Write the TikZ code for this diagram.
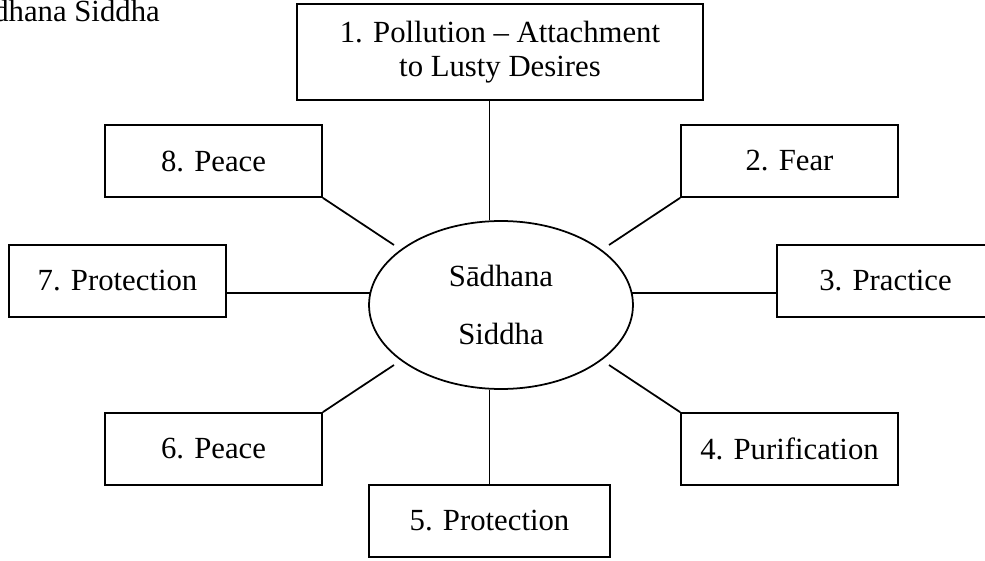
\documentclass[tikz,border=0pt]{standalone}
\usepackage{fontspec}
\setmainfont{Liberation Serif}
\usetikzlibrary{shapes.geometric}
\tikzstyle{box}=[draw, line width=1pt, inner sep=0pt, minimum width=4.34cm, minimum height=1.44cm]
\tikzstyle{hub}=[draw, ellipse, line width=1pt, inner sep=0pt, minimum width=5.28cm, minimum height=3.36cm, align=center]
\tikzstyle{link}=[line width=1pt]

\begin{document}
\begin{tikzpicture}[x=0.02cm, y=-0.02cm, font=\fontsize{17.5}{20}\selectfont]
    \clip (0,0) rectangle (985,561);

    \node [anchor=base east] (T) at (166,22) {Sādhana Siddha};

    \node [hub](C) at (501,305) {Sādhana\\[13pt]Siddha};
    \node [box, minimum width=8.12cm, minimum height=1.92cm, align=center](P1) at (500,52) {1. Pollution – Attachment\\[-0.5pt]to Lusty Desires};
    \node [box](P2) at (789.5,161) {2. Fear};
    \node [box](P3) at (885.5,281) {3. Practice};
    \node [box](P4) at (789.5,449) {4. Purification};
    \node [box, minimum width=4.82cm](P5) at (489.5,521) {5. Protection};
    \node [box](P6) at (213.5,449) {6. Peace};
    \node [box](P7) at (117.5,281) {7. Protection};
    \node [box](P8) at (213.5,161) {8. Peace};

    % loose ends near the ellipse
    \coordinate (ne) at (609,245);
    \coordinate (se) at (609,365);
    \coordinate (sw) at (394,365);
    \coordinate (nw) at (394,245);
    \coordinate (e) at (632,293);
    \coordinate (w) at (370,293);

    \path (P1.south -| P5) edge[link] (C.north -| P5);
    \path (P2.south west) edge[link] (ne);
    \path (P3.west |- e) edge[link] (e);
    \path (P4.north west) edge[link] (se);
    \path (P5.north) edge[link] (C.south -| P5);
    \path (P6.north east) edge[link] (sw);
    \path (P7.east |- w) edge[link] (w);
    \path (P8.south east) edge[link] (nw);
\end{tikzpicture}
\end{document}
